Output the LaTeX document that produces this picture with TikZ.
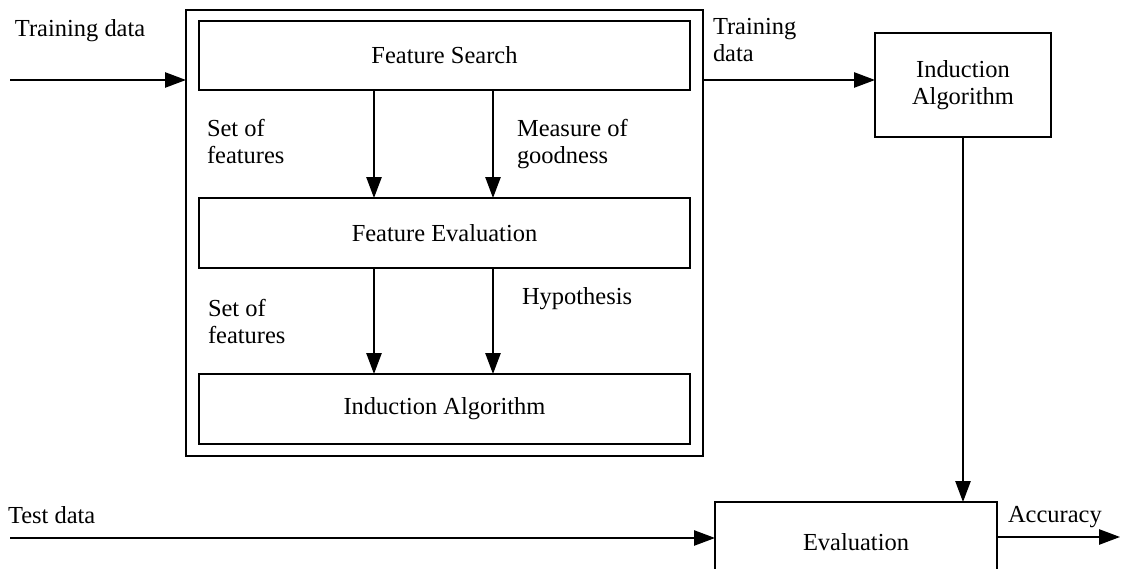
\documentclass[tikz,border=0pt]{standalone}
\usepackage{fontspec}
\setmainfont{Liberation Serif}
\usetikzlibrary{arrows.meta,calc}
\newcommand\figfont{\fontsize{17.4}{19.3}\selectfont}
\begin{document}
\begin{tikzpicture}[x=0.025cm,y=-0.025cm,
  box/.style={draw,line width=1.1pt,inner sep=0pt,outer sep=0pt,align=center,font=\figfont},
  lbl/.style={inner sep=0pt,outer sep=0pt,align=left,anchor=base west,font=\figfont},
  arr/.style={line width=1.1pt,-{Triangle[length=5.2mm,width=3.8mm]}}]
\clip (0,0) rectangle (1121,569);
% boxes
\node[box,minimum width=12.925cm,minimum height=11.15cm] (outer) at (444.5,233) {};
\node[box,minimum width=12.275cm,minimum height=1.725cm] (fs) at (444.5,55.5) {Feature Search};
\node[box,minimum width=12.275cm,minimum height=1.75cm] (fe) at (444.5,233) {Feature Evaluation};
\node[box,minimum width=12.275cm,minimum height=1.75cm] (ia) at (444.5,409) {Induction Algorithm};
\node[box,minimum width=4.4cm,minimum height=2.6cm] (ind) at (963,85) {Induction\\Algorithm};
\node[box,minimum width=7.05cm,minimum height=2cm] (ev) at (856,542) {Evaluation};
% free ends
\coordinate (tin) at (10,80);
\coordinate (tst) at (10,538);
\coordinate (acc) at (1120,537);
\coordinate (c1) at (374,0);
\coordinate (c2) at (493,0);
% connectors
\draw[arr] (tin) -- (tin -| outer.west);
\draw[arr] (tin -| outer.east) -- (tin -| ind.west);
\draw[arr] (c1 |- fs.south) -- (c1 |- fe.north);
\draw[arr] (c2 |- fs.south) -- (c2 |- fe.north);
\draw[arr] (c1 |- fe.south) -- (c1 |- ia.north);
\draw[arr] (c2 |- fe.south) -- (c2 |- ia.north);
\draw[arr] (ind.south) -- (ind.south |- ev.north);
\draw[arr] (tst) -- (tst -| ev.west);
\draw[arr] (acc -| ev.east) -- (acc);
% labels (base = baseline of last line)
\node[lbl] (ltrain) at (15,37) {Training data};
\node[lbl] (rtrain) at (713,62) {Training\\data};
\node[lbl] (set1) at (207,164) {Set of\\features};
\node[lbl] (meas) at (517,164) {Measure of\\goodness};
\node[lbl] (set2) at (208,344) {Set of\\features};
\node[lbl] (hyp) at (522,305) {Hypothesis};
\node[lbl] (test) at (8,524) {Test data};
\node[lbl] (accl) at (1008,523) {Accuracy};
\end{tikzpicture}
\end{document}
